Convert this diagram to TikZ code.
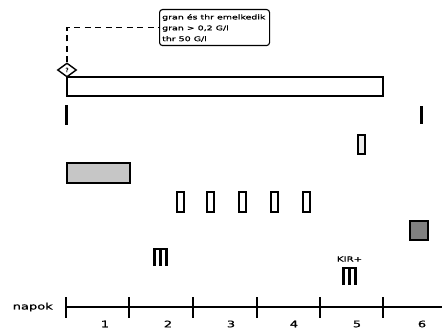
\documentclass[tikz,border=0pt]{standalone}
\usepackage{fontspec}
\setmainfont{DejaVu Sans}[BoldFont={DejaVu Sans}, BoldFeatures={FakeBold=0.8}]
\usetikzlibrary{shapes.geometric}
\tikzset{
  box/.style={draw, line width=1.3pt, inner sep=0pt, outer sep=0pt},
  slim/.style={box, line width=1.5pt, minimum width=7pt, minimum height=20pt, fill=white},
  combline/.style={line width=2.6pt},
  tickline/.style={line width=1.8pt},
  txt/.style={inner sep=0pt, font=\fontsize{9}{10}\selectfont\bfseries},
  notetxt/.style={anchor=west, inner sep=0pt, font=\fontsize{6.5}{7}\selectfont\bfseries},
}
\newcommand{\wide}[1]{\scalebox{1.45}[1]{#1}}
\begin{document}
\begin{tikzpicture}[x=1pt,y=-1pt]
\useasboundingbox (0,0) rectangle (442,329);
% note box
\node[draw, line width=1.1pt, rounded corners=3pt, minimum width=110pt, minimum height=36pt, inner sep=0pt, anchor=north west] (note) at (159,9) {};
\node[notetxt] (t1) at (162,17.5) {\wide{gran és thr emelkedik}};
\node[notetxt] (t2) at (162,28.5) {\wide{gran > 0,2 G/l}};
\node[notetxt] (t3) at (162,39) {\wide{thr 50 G/l}};
% top bar
\node[box, line width=1.2pt, minimum width=316pt, minimum height=19pt, anchor=north west] (bar) at (67,77) {};
% diamond
\node[diamond, draw, line width=1.4pt, fill=white, minimum width=19pt, minimum height=14pt, inner sep=0pt, font=\fontsize{6}{6}\selectfont\bfseries] (q) at (67,70) {?};
\draw[line width=1.1pt, dash pattern=on 6pt off 4.5pt] (q.north) |- (note.west);
% vertical marks
\draw[line width=2.2pt] (66.5,105) -- (66.5,125);
\draw[line width=2.2pt] (421.5,106) -- (421.5,124);
% small rect
\node[slim, fill=gray!15, minimum height=19pt] (s0) at (361.5,144.5) {};
% gray rect
\node[box, line width=2pt, fill=gray!45, minimum width=63pt, minimum height=20pt] (g) at (98,172.5) {};
% five slim rects
\foreach \x [count=\i] in {180.5,210.5,242.5,274.5,306.5} {
  \node[slim] (s\i) at (\x,202) {};
}
% dark square
\node[box, line width=2pt, fill=gray!100, minimum width=18pt, minimum height=19pt] (d) at (418.5,230) {};
% combs
\draw[combline] (154.5,266) -- (154.5,249) -- (166.5,249) -- (166.5,266);
\draw[combline] (160.5,249) -- (160.5,266);
\draw[combline] (343.5,285) -- (343.5,268) -- (355.5,268) -- (355.5,285);
\draw[combline] (349.5,268) -- (349.5,285);
\node[txt, font=\fontsize{7}{8}\selectfont\bfseries] (kir) at (349.5,259) {\wide{KIR+}};
% axis
\node[txt, anchor=east] (napok) at (53,307) {\wide{napok}};
\draw[line width=1.6pt] (66,307) -- (442,307);
\foreach \x in {66,129,193,257,320,383} {
  \draw[tickline] (\x,297) -- (\x,318);
}
\foreach \x [count=\i] in {105,168,231,294,357,422} {
  \node[txt] (n\i) at (\x,324) {\wide{\i}};
}
\end{tikzpicture}
\end{document}
